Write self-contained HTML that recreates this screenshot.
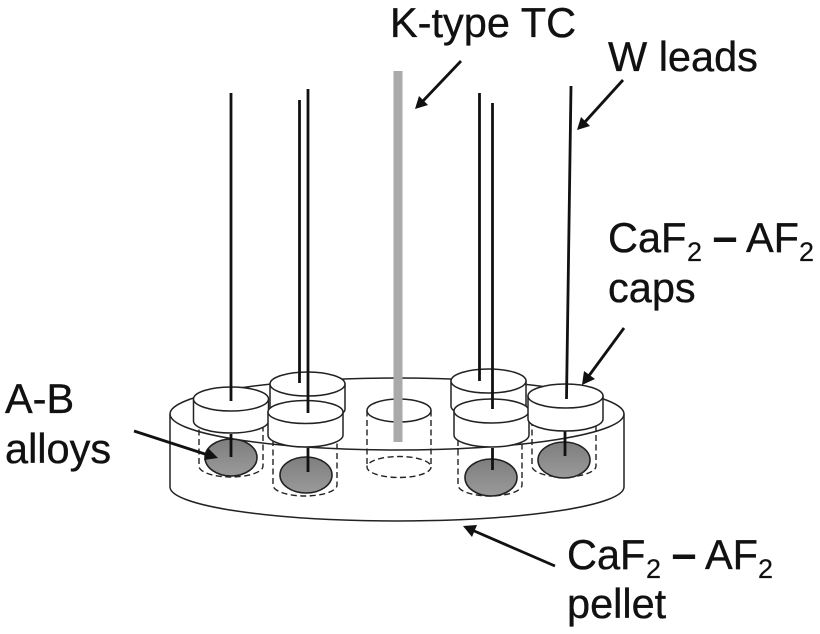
<!DOCTYPE html>
<html>
<head>
<meta charset="utf-8">
<style>
html,body{margin:0;padding:0;background:#fff;width:820px;height:634px;overflow:hidden}
svg{display:block}
text{font-family:"Liberation Sans",sans-serif;font-size:41.5px;fill:#111;stroke:#111;stroke-width:.35}
text.s{font-size:27px;stroke-width:.2}
text.m{font-size:45px;font-weight:bold;stroke:none}
.o{fill:#fff;stroke:#222;stroke-width:1.5}
.n{fill:none;stroke:#222;stroke-width:1.5}
.d{fill:none;stroke:#222;stroke-width:1.4;stroke-dasharray:6 3.5}
.a{fill:url(#g);stroke:#222;stroke-width:1.6}
.l{stroke:#111;stroke-width:2.8;fill:none}
.ar{stroke:#111;stroke-width:2.8;fill:none}
</style>
</head>
<body>
<svg width="820" height="634" viewBox="0 0 820 634" xmlns="http://www.w3.org/2000/svg">
<defs>
<linearGradient id="g" x1="0" y1="0" x2="0" y2="1"><stop offset="0" stop-color="#7e7e7e"/><stop offset="1" stop-color="#9a9a9a"/></linearGradient>
</defs>
<!-- pellet -->
<path class="o" d="M170 414 A227 36 0 0 1 624 414 V487 A227 34 0 0 1 170 487 Z"/>
<path class="n" d="M170 414 A227 36 0 0 0 624 414"/>
<!-- holes -->
<path class="d" d="M199 420 V466 A32 11 0 0 0 263 466 V420"/>
<path class="d" d="M273 440 V485 A32 11 0 0 0 337 485 V440"/>
<path class="d" d="M458 440 V485 A32 11 0 0 0 522 485 V440"/>
<path class="d" d="M532 420 V466 A32 11 0 0 0 596 466 V420"/>
<path class="d" d="M367 410.5 V467 M431 410.5 V467"/>
<ellipse class="d" cx="399" cy="467" rx="32" ry="10.5"/>
<ellipse class="o" cx="399" cy="410.5" rx="32" ry="11.5"/>
<!-- alloys -->
<ellipse class="a" cx="231" cy="457.5" rx="26" ry="18.5"/>
<ellipse class="a" cx="306" cy="475" rx="26" ry="18"/>
<ellipse class="a" cx="491" cy="477.5" rx="26" ry="18.5"/>
<ellipse class="a" cx="564" cy="460" rx="26" ry="18"/>
<path class="l" d="M231 434 V457 M308 448 V472 M492.500 448 V470 M565 431 V456"/>
<!-- TC -->
<rect x="393.500" y="71" width="9" height="371" fill="#aba9a9"/>
<!-- back caps -->
<path class="o" d="M270 384 V409 A37.5 12 0 0 0 345 409 V384 Z"/>
<ellipse class="o" cx="307.500" cy="384" rx="37.5" ry="12"/>
<path class="l" d="M299.500 100 V383"/>
<path class="o" d="M451 381 V406 A37.5 12 0 0 0 526 406 V381 Z"/>
<ellipse class="o" cx="488.500" cy="381" rx="37.5" ry="12"/>
<path class="l" d="M479.500 93 V381"/>
<!-- front caps -->
<path class="o" d="M193.500 399 V421 A37.5 12 0 0 0 268.500 421 V399 Z"/>
<ellipse class="o" cx="231" cy="399" rx="37.500" ry="12"/>
<path class="l" d="M231 93 V401"/>
<path class="o" d="M268 412 V435 A37.5 12 0 0 0 343 435 V412 Z"/>
<ellipse class="o" cx="305.500" cy="412" rx="37.5" ry="11.500"/>
<path class="l" d="M308 89 V413"/>
<path class="o" d="M454 411 V435 A37.5 12 0 0 0 529 435 V411 Z"/>
<ellipse class="o" cx="491.500" cy="411" rx="37.5" ry="12"/>
<path class="l" d="M492.500 103 V409"/>
<path class="o" d="M528 396 V419 A37.5 12 0 0 0 603 419 V396 Z"/>
<ellipse class="o" cx="565.500" cy="396" rx="37.5" ry="12"/>
<path class="l" d="M571 86 L566.500 399"/>
<!-- arrows -->
<path class="ar" d="M461 61 L422 102"/><path fill="#111" d="M415 109 L419 96 L428 105 Z"/>
<path class="ar" d="M623 80 L584 123"/><path fill="#111" d="M577 130 L581 117 L590 126 Z"/>
<path class="ar" d="M624 328 L588 377"/><path fill="#111" d="M582 385 L584 371 L595 379 Z"/>
<path class="ar" d="M134 431 L208 455"/><path fill="#111" d="M218 458 L204 460 L208 448 Z"/>
<path class="ar" d="M555 566 L472 530"/><path fill="#111" d="M463 526 L477 525 L472 537 Z"/>
<!-- labels -->
<text x="390" y="37">K-type TC</text>
<text x="608" y="71">W leads</text>
<text x="608" y="252">CaF</text><text class="s" x="687" y="261">2</text><text class="m" x="712.500" y="252">–</text><text x="746" y="252">AF</text><text class="s" x="799" y="261">2</text>
<text x="608" y="302">caps</text>
<text x="5" y="413">A-B</text>
<text x="5" y="463">alloys</text>
<text x="567" y="569">CaF</text><text class="s" x="646" y="578">2</text><text class="m" x="671.500" y="569">–</text><text x="705" y="569">AF</text><text class="s" x="758" y="578">2</text>
<text x="567" y="618">pellet</text>
</svg>
</body>
</html>
